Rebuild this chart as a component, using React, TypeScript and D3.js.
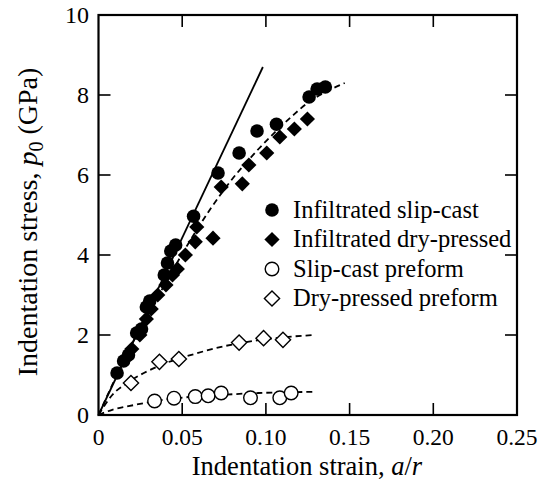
import React from "react";
import * as d3 from "d3";

const xTicks = [0, 0.05, 0.1, 0.15, 0.2, 0.25];
const xTickLabels = ["0", "0.05", "0.10", "0.15", "0.20", "0.25"];
const yTicks = [0, 2, 4, 6, 8, 10];

const infSlipCast: [number, number][] = [
  [0.0111, 1.05], [0.015, 1.35], [0.0179, 1.5], [0.0228, 2.05], [0.0257, 2.15],
  [0.0286, 2.7], [0.0306, 2.85], [0.0393, 3.5], [0.0412, 3.8], [0.0432, 4.1],
  [0.0461, 4.25], [0.0568, 4.97], [0.0714, 6.05], [0.084, 6.55], [0.0947, 7.1],
  [0.1063, 7.27], [0.1258, 7.95], [0.1306, 8.15], [0.1355, 8.2],
];
const infDryPressed: [number, number][] = [
  [0.016, 1.4], [0.0199, 1.65], [0.0247, 2.0], [0.0286, 2.4], [0.0315, 2.65],
  [0.0354, 3.0], [0.0403, 3.25], [0.0442, 3.5], [0.0471, 3.65], [0.0519, 4.0],
  [0.0578, 4.33], [0.0587, 4.7], [0.0684, 4.42], [0.0733, 5.7], [0.0859, 5.78],
  [0.0898, 6.25], [0.1005, 6.55], [0.1083, 6.95], [0.117, 7.15], [0.1248, 7.4],
];
const slipCastPreform: [number, number][] = [
  [0.0335, 0.35], [0.0451, 0.42], [0.0578, 0.46], [0.0655, 0.48], [0.0733, 0.55],
  [0.0908, 0.43], [0.1083, 0.43], [0.1151, 0.55],
];
const dryPressedPreform: [number, number][] = [
  [0.0194, 0.8], [0.0364, 1.33], [0.048, 1.4], [0.084, 1.81], [0.0986, 1.92], [0.1102, 1.88],
];

const solidLine: [number, number][] = [[0, 0], [0.0982, 8.7]];
const fitInfiltrated: [number, number][] = [
  [0, 0], [0.0179, 1.6], [0.0374, 3.1], [0.0568, 4.5], [0.0762, 5.7], [0.0956, 6.65],
  [0.1151, 7.45], [0.1248, 7.8], [0.1345, 8.05], [0.1471, 8.3],
];
const fitDryPreform: [number, number][] = [
  [0, 0], [0.0082, 0.5], [0.0179, 0.82], [0.0374, 1.25], [0.0568, 1.52], [0.0762, 1.73],
  [0.0956, 1.87], [0.1151, 1.96], [0.1287, 2.0],
];
const fitSlipPreform: [number, number][] = [
  [0, 0], [0.0082, 0.13], [0.0179, 0.22], [0.0374, 0.37], [0.0568, 0.46], [0.0762, 0.51],
  [0.0956, 0.55], [0.1151, 0.57], [0.1287, 0.58],
];

const legendLabels = [
  "Infiltrated slip-cast",
  "Infiltrated dry-pressed",
  "Slip-cast preform",
  "Dry-pressed preform",
];

const W = 539, H = 497;
const left = 98.5, right = 517, top = 15, bottom = 415;
const FONT = "'Liberation Serif', 'Times New Roman', serif";

export default function App() {
  const x = d3.scaleLinear().domain([0, 0.25]).range([left, right]);
  const y = d3.scaleLinear().domain([0, 10]).range([bottom, top]);
  const line = d3.line<[number, number]>().x(d => x(d[0])).y(d => y(d[1]));
  const curve = d3.line<[number, number]>().x(d => x(d[0])).y(d => y(d[1])).curve(d3.curveMonotoneX);

  const r = 6.8;
  const dSize = 7.6;
  const diamond = (cx: number, cy: number, s: number) =>
    `M${cx},${cy - s}L${cx + s},${cy}L${cx},${cy + s}L${cx - s},${cy}Z`;

  const tickLen = 12;
  const legendX = 272, legendTextX = 293;
  const legendYs = [210, 239.5, 269, 298.5];

  return (
    <svg width={W} height={H} style={{ position: "absolute", left: 0, top: 0, background: "#fff" }} fontFamily={FONT}>
      <rect x={0} y={0} width={W} height={H} fill="#fff" />
      {/* fits */}
      <path d={line(solidLine) || ""} stroke="#000" strokeWidth={1.8} fill="none" />
      <path d={curve(fitInfiltrated) || ""} stroke="#000" strokeWidth={1.8} fill="none" strokeDasharray="6,4" />
      <path d={curve(fitDryPreform) || ""} stroke="#000" strokeWidth={1.8} fill="none" strokeDasharray="6,4" />
      <path d={curve(fitSlipPreform) || ""} stroke="#000" strokeWidth={1.8} fill="none" strokeDasharray="6,4" />

      {/* markers */}
      {infDryPressed.map((d, i) => (
        <path key={"dp" + i} d={diamond(x(d[0]), y(d[1]), dSize)} fill="#000" />
      ))}
      {infSlipCast.map((d, i) => (
        <circle key={"sc" + i} cx={x(d[0])} cy={y(d[1])} r={r} fill="#000" />
      ))}
      {slipCastPreform.map((d, i) => (
        <circle key={"scp" + i} cx={x(d[0])} cy={y(d[1])} r={r} fill="#fff" stroke="#000" strokeWidth={1.4} />
      ))}
      {dryPressedPreform.map((d, i) => (
        <path key={"dpp" + i} d={diamond(x(d[0]), y(d[1]), dSize)} fill="#fff" stroke="#000" strokeWidth={1.4} />
      ))}

      {/* frame */}
      <rect x={left} y={top} width={right - left} height={bottom - top} fill="none" stroke="#000" strokeWidth={2.2} />
      {xTicks.slice(1, -1).map((t, i) => (
        <g key={"xt" + i}>
          <line x1={x(t)} x2={x(t)} y1={bottom} y2={bottom - tickLen} stroke="#000" strokeWidth={1.6} />
          <line x1={x(t)} x2={x(t)} y1={top} y2={top + tickLen} stroke="#000" strokeWidth={1.6} />
        </g>
      ))}
      {yTicks.slice(1, -1).map((t, i) => (
        <g key={"yt" + i}>
          <line x1={left} x2={left + tickLen} y1={y(t)} y2={y(t)} stroke="#000" strokeWidth={1.6} />
          <line x1={right} x2={right - tickLen} y1={y(t)} y2={y(t)} stroke="#000" strokeWidth={1.6} />
        </g>
      ))}
      {xTicks.map((t, i) => (
        <text key={"xl" + i} x={x(t)} y={445} textAnchor="middle" fontSize={23.5}>{xTickLabels[i]}</text>
      ))}
      {yTicks.map((t, i) => (
        <text key={"yl" + i} x={89} y={y(t) + 8} textAnchor="end" fontSize={24}>{t}</text>
      ))}
      <text x={307} y={475} textAnchor="middle" fontSize={26.5}>
        Indentation strain, <tspan fontStyle="italic">a</tspan>/<tspan fontStyle="italic">r</tspan>
      </text>
      <text transform={`translate(37,${222}) rotate(-90)`} textAnchor="middle" fontSize={28}>
        Indentation stress, <tspan fontStyle="italic">p</tspan><tspan fontSize={20} dy={6}>0</tspan><tspan dy={-6}> (GPa)</tspan>
      </text>

      {/* legend */}
      {legendLabels.map((lab, i) => {
        const cy = legendYs[i];
        let marker;
        if (i === 0) marker = <circle cx={legendX} cy={cy} r={r} fill="#000" />;
        else if (i === 1) marker = <path d={diamond(legendX, cy, dSize)} fill="#000" />;
        else if (i === 2) marker = <circle cx={legendX} cy={cy} r={r} fill="#fff" stroke="#000" strokeWidth={1.4} />;
        else marker = <path d={diamond(legendX, cy, dSize)} fill="#fff" stroke="#000" strokeWidth={1.4} />;
        return (
          <g key={"lg" + i}>
            {marker}
            <text x={legendTextX} y={cy + 7.5} fontSize={24.5}>{lab}</text>
          </g>
        );
      })}
    </svg>
  );
}
